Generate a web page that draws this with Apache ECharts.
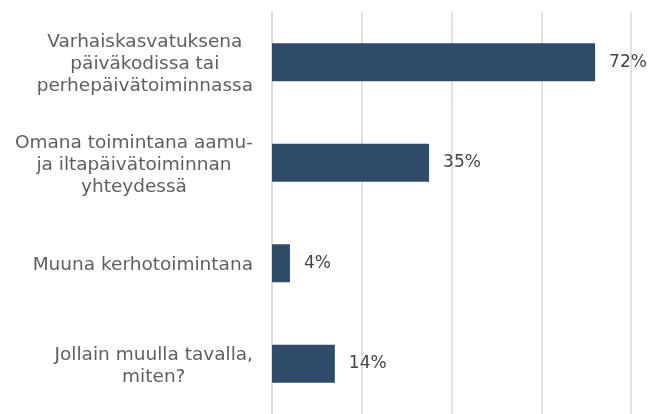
<!DOCTYPE html>
<html>
<head>
<meta charset="utf-8">
<script src="https://cdn.jsdelivr.net/npm/echarts@6/dist/echarts.min.js"></script>
<style>
  html, body { margin: 0; padding: 0; background: #fff; }
  #chart { width: 650px; height: 414px; }
</style>
</head>
<body>
<div id="chart"></div>
<script>
  // kategoriat ja osuudet (%)
  const categories = [
    'Varhaiskasvatuksena\npäiväkodissa tai\nperhepäivätoiminnassa',
    'Omana toimintana aamu-\nja iltapäivätoiminnan\nyhteydessä',
    'Muuna kerhotoimintana',
    'Jollain muulla tavalla,\nmiten?'
  ];
  const shares = [72, 35, 4, 14];
  const xTicks = [0, 20, 40, 60, 80];

  const chart = echarts.init(document.getElementById('chart'));
  chart.setOption({
    animation: false,
    grid: { left: 272, right: 19, top: 12, bottom: -4, containLabel: false },
    xAxis: {
      type: 'value',
      min: xTicks[0],
      max: xTicks[xTicks.length - 1],
      interval: xTicks[1] - xTicks[0],
      axisLabel: { show: false },
      axisLine: { show: false },
      axisTick: { show: false },
      splitLine: { lineStyle: { color: '#d9d9d9', width: 1.5 } }
    },
    yAxis: {
      type: 'category',
      inverse: true,
      data: categories,
      axisLine: { lineStyle: { color: '#d9d9d9', width: 1.5 } },
      axisTick: { length: 7, lineStyle: { color: '#d9d9d9', width: 1.5 } },
      axisLabel: {
        margin: 19,
        align: 'right',
        padding: [4, 0, 0, 0],
        formatter: function (v) {
          return v.split('\n').map(function (s) { return '{c|' + s + '}'; }).join('\n');
        },
        rich: {
          c: {
            align: 'center',
            fontFamily: 'DejaVu Sans',
            fontSize: 18.5,
            lineHeight: 22,
            color: '#5f5f5f'
          }
        }
      }
    },
    series: [{
      type: 'bar',
      data: shares,
      barWidth: 38,
      itemStyle: { color: '#304b6a' },
      label: {
        show: true,
        position: 'right',
        distance: 14,
        formatter: '{c}%',
        fontFamily: 'DejaVu Sans',
        fontSize: 17,
        color: '#454545'
      }
    }]
  });
</script>
</body>
</html>
